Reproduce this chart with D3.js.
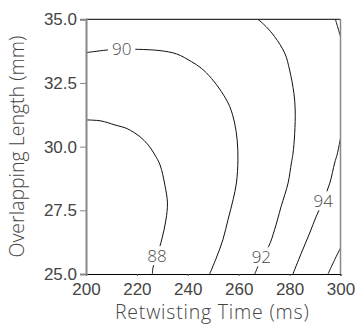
<!DOCTYPE html>
<html>
<head>
<meta charset="utf-8">
<script src="https://cdn.jsdelivr.net/npm/d3@7"></script>
<style>
  body { margin: 0; background: #fff; }
  svg { display: block; font-family: "Open Sans", Lato, sans-serif; font-weight: 300; }
</style>
</head>
<body>
<svg id="chart" width="356" height="326"></svg>
<script>
// ---- data ----
const xTicks = [200, 220, 240, 260, 280, 300];
const yTicks = [25.0, 27.5, 30.0, 32.5, 35.0];
const xTitle = "Retwisting Time (ms)";
const yTitle = "Overlapping Length (mm)";

// contour 88
const c88 = [[200,31.05],[205.9,31.01],[211.4,30.85],[216.1,30.71],[221.2,30.39],[224.5,30.06],[227.1,29.67],[229.1,29.28],[231.0,28.49],[232.0,27.79],[231.4,27.12],[229.9,26.41],[227.9,25.71],[226.3,25.24],[226.1,25.0]];
// contour 90
const c90 = [[200,33.69],[207.9,33.79],[214.1,33.83],[220.6,33.82],[229.1,33.77],[235.6,33.64],[241.4,33.34],[245.3,33.08],[249.3,32.68],[253.2,32.16],[256.5,31.57],[258.4,30.92],[259.4,30.26],[259.7,29.48],[259.1,28.57],[257.8,27.92],[255.8,27.13],[253.8,26.35],[251.2,25.63],[248.6,25.0]];
// contour 92
const c92 = [[267.6,35.0],[270.8,34.71],[274.1,34.32],[278.1,33.67],[280.0,33.01],[281.7,32.09],[282.2,31.44],[282.0,30.52],[281.3,29.70],[280.7,29.36],[279.4,28.57],[276.7,27.66],[274.1,26.74],[271.8,26.09],[268.9,25.66],[267.3,25.24],[266.3,25.0]];
// contour 94 (two pieces)
const c94a = [[298.0,35.0],[299.0,34.66],[300.0,34.32]];
const c94b = [[300.0,30.33],[298.7,29.70],[297.7,29.36],[295.8,28.57],[293.1,27.85],[290.5,27.27],[287.9,26.61],[284.6,25.82],[281.3,25.0]];
// contour 96
const c96 = [[300.0,26.02],[297.7,25.56],[295.1,25.0]];

const contourLines = [c88, c90, c92, c94a, c94b, c96];
const contourLabels = [
  {text: "88", x: 227.9, y: 25.71},
  {text: "90", x: 214.0, y: 33.83},
  {text: "92", x: 268.9, y: 25.66},
  {text: "94", x: 293.2, y: 27.86}
];

// ---- layout ----
const svg = d3.select("#chart");
const margin = {left: 86, top: 19.3, right: 15.5, bottom: 52};
const W = 356 - margin.left - margin.right;
const H = 326 - margin.top - margin.bottom;
const g = svg.append("g").attr("transform", `translate(${margin.left},${margin.top})`);

const x = d3.scaleLinear().domain([200, 300]).range([0, W]);
const y = d3.scaleLinear().domain([25, 35]).range([H, 0]);

const line = d3.line().x(d => x(d[0])).y(d => y(d[1])).curve(d3.curveCatmullRom);

// contour lines
g.append("g").selectAll("path").data(contourLines).join("path")
  .attr("d", line)
  .attr("fill", "none")
  .attr("stroke", "#111")
  .attr("stroke-width", 1);

// labels with white background gap
const lab = g.append("g").selectAll("g").data(contourLabels).join("g")
  .attr("transform", d => `translate(${x(d.x)},${y(d.y)})`);
lab.append("rect").attr("fill", "#fff");
lab.append("text")
  .attr("text-anchor", "middle")
  .attr("dy", "0.36em")
  .attr("font-size", 17)
  .attr("fill", "#4a4a4a")
  .text(d => d.text);
lab.each(function() {
  const t = d3.select(this).select("text").node().getBBox();
  d3.select(this).select("rect")
    .attr("x", t.x - 4).attr("y", t.y + 2).attr("width", t.width + 8).attr("height", t.height - 4);
});

// frame: top black, right gray
g.append("line").attr("x1", 0).attr("x2", W).attr("y1", 0).attr("y2", 0)
  .attr("stroke", "#000").attr("stroke-width", 1);
g.append("line").attr("x1", W).attr("x2", W).attr("y1", 0).attr("y2", H)
  .attr("stroke", "#888").attr("stroke-width", 1.5);

// x axis
const xa = g.append("g").attr("transform", `translate(0,${H})`)
  .call(d3.axisBottom(x).tickValues(xTicks).tickSize(2).tickPadding(7).tickFormat(d3.format("d")));
xa.select(".domain").attr("stroke", "#000").attr("stroke-width", 1);
xa.selectAll(".tick line").attr("stroke", "#555");
xa.selectAll(".tick text").attr("font-size", 17).attr("fill", "#444").attr("font-family", null);

// y axis
const ya = g.append("g")
  .call(d3.axisLeft(y).tickValues(yTicks).tickSize(6).tickPadding(3).tickFormat(d3.format(".1f")));
ya.select(".domain").attr("stroke", "#888").attr("stroke-width", 2);
ya.selectAll(".tick line").attr("stroke", "#888");
ya.selectAll(".tick text").attr("font-size", 17).attr("fill", "#444").attr("font-family", null);

// titles
svg.append("text")
  .attr("x", margin.left + W / 2 - 1).attr("y", 319)
  .attr("text-anchor", "middle")
  .attr("font-size", 19.5).attr("letter-spacing", 0.8).attr("fill", "#444")
  .text(xTitle);
svg.append("text")
  .attr("transform", `translate(24,${margin.top + H / 2}) rotate(-90)`)
  .attr("text-anchor", "middle")
  .attr("font-size", 19.5).attr("fill", "#444")
  .text(yTitle);
</script>
</body>
</html>
